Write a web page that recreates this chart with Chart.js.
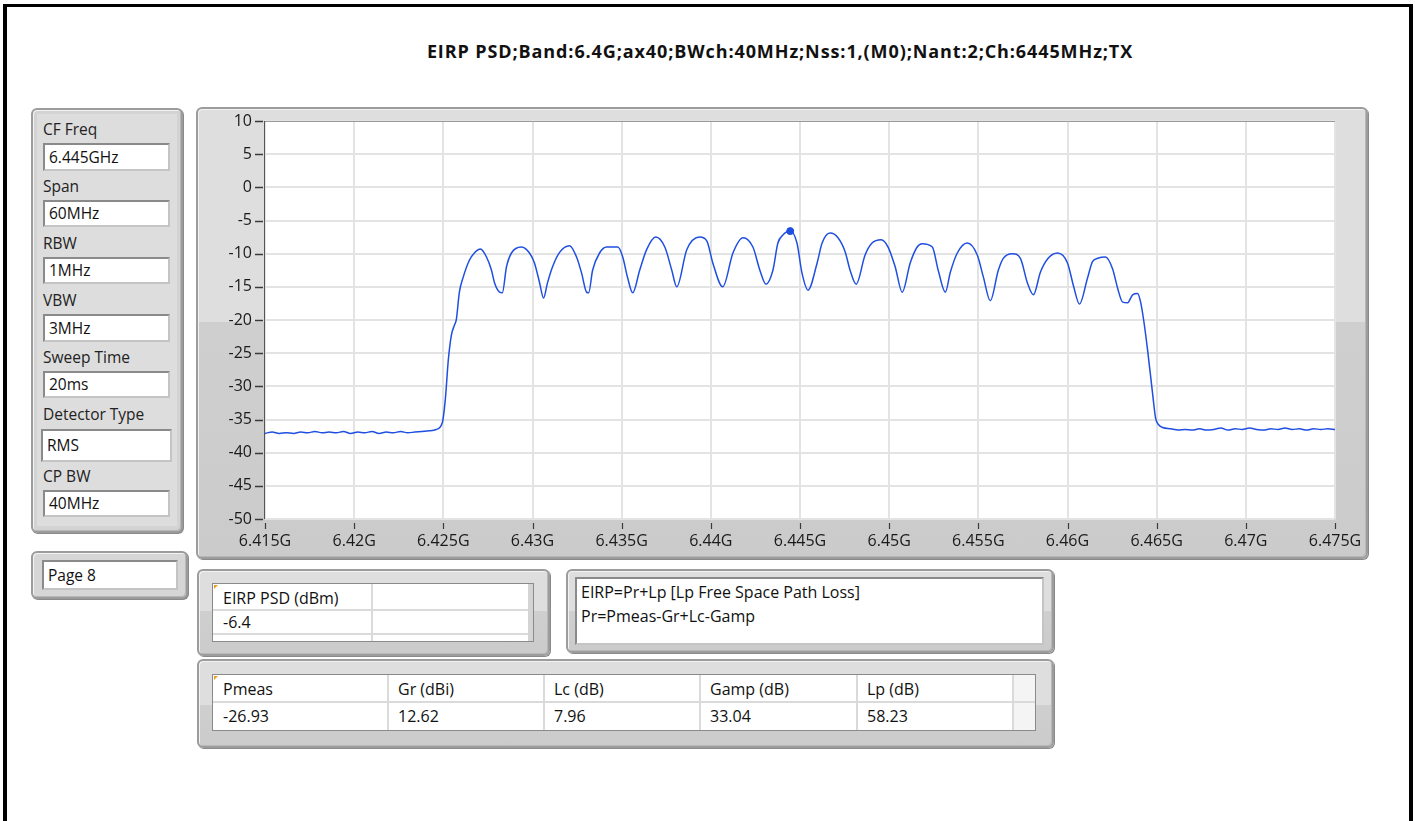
<!DOCTYPE html>
<html><head><meta charset="utf-8">
<script src="https://cdn.jsdelivr.net/npm/chart.js@4/dist/chart.umd.min.js"></script>
<style>
html,body{margin:0;padding:0;background:#fff;}
body{width:1415px;height:821px;overflow:hidden;position:relative;font-family:"Open Sans","Noto Sans",sans-serif;color:#1a1a1a;}
.abs{position:absolute;}
.outer{position:absolute;left:3px;top:4px;width:1402px;height:830px;border-left:4px solid #000;border-right:4px solid #000;border-top:3px solid #000;}
.title{position:absolute;left:0;width:1560px;top:38px;text-align:center;font-weight:700;font-size:18px;letter-spacing:0.9px;line-height:26px;color:#111;}
.frame{position:absolute;box-sizing:border-box;border:2px solid #9c9c9c;border-radius:6px;box-shadow:inset 1px 1px 0 #f2f2f2,inset -1px -1px 0 #b8b8b8,1px 1px 0 #8a8a8a;}
.lbl{position:absolute;left:43px;font-size:15.5px;line-height:20px;color:#222;}
.tb{position:absolute;box-sizing:border-box;background:#fff;border:2px solid;border-color:#8a8a8a #c4c4c4 #c4c4c4 #8a8a8a;font-size:15.5px;padding-left:4px;color:#111;}
.cell{position:absolute;font-size:16px;line-height:26px;color:#111;padding-left:10px;box-sizing:border-box;}
.vl{position:absolute;width:2px;background:#dadada;}
.hl{position:absolute;height:2px;background:#dadada;}
</style></head>
<body>
<div class="outer"></div>
<div class="title" id="title"></div>

<!-- left settings panel -->
<div class="frame" style="left:31px;top:108px;width:152px;height:425px;background:#d3d3d3;"></div>
<div class="abs" style="left:37px;top:114px;width:140px;height:412px;background:#dddddd;"></div>
<div id="settings"></div>

<!-- page box -->
<div class="frame" style="left:31px;top:551px;width:157px;height:48px;background:#d6d6d6;"></div>
<div class="tb" style="left:42px;top:560px;width:136px;height:30px;line-height:26px;">Page 8</div>

<!-- chart panel -->
<div class="frame" style="left:196px;top:107px;width:1172px;height:452px;background:linear-gradient(#dedede 0,#dedede 213px,#cfcfcf 213px,#cbcbcb 100%);"></div>
<div class="abs" style="left:197px;top:109px;width:1170px;height:449px;"><canvas id="c" width="1170" height="449"></canvas></div>

<!-- EIRP table panel -->
<div class="frame" style="left:197px;top:569px;width:353px;height:87px;background:linear-gradient(#dedede 0,#dedede 40px,#cfcfcf 40px,#cbcbcb 100%);"></div>
<div class="abs" style="left:212px;top:583px;width:322px;height:59px;background:#fff;border:1px solid #8a8a8a;box-sizing:border-box;"></div>
<div class="abs" style="left:528px;top:584px;width:5px;height:57px;background:#d4d4d4;"></div>
<div class="abs" style="left:214px;top:585px;width:0;height:0;border-top:4px solid #e8a020;border-right:4px solid transparent;"></div>
<div class="hl" style="left:213px;top:609px;width:315px;"></div>
<div class="hl" style="left:213px;top:633px;width:315px;"></div>
<div class="vl" style="left:371px;top:584px;height:57px;"></div>
<div id="eirpT"></div>

<!-- formula panel -->
<div class="frame" style="left:566px;top:569px;width:488px;height:84px;background:linear-gradient(#dedede 0,#dedede 40px,#cfcfcf 40px,#cbcbcb 100%);"></div>
<div class="abs" style="left:575px;top:577px;width:469px;height:68px;background:#fff;border:2px solid;border-color:#8a8a8a #c4c4c4 #c4c4c4 #8a8a8a;box-sizing:border-box;"></div>
<div class="abs" style="left:581px;top:580px;font-size:16px;line-height:24px;color:#111;" id="formula"></div>

<!-- parameter table panel -->
<div class="frame" style="left:197px;top:659px;width:857px;height:89px;background:linear-gradient(#dedede 0,#dedede 44px,#cfcfcf 44px,#cbcbcb 100%);"></div>
<div class="abs" style="left:212px;top:674px;width:824px;height:57px;background:#fff;border:1px solid #8a8a8a;box-sizing:border-box;"></div>
<div class="abs" style="left:1014px;top:675px;width:21px;height:55px;background:#f4f4f4;"></div>
<div class="abs" style="left:214px;top:676px;width:0;height:0;border-top:4px solid #e8a020;border-right:4px solid transparent;"></div>
<div class="hl" style="left:213px;top:701px;width:822px;"></div>
<div id="paramT"></div>

<script>
// ---- data ----
const freqMHz = [
 6415.0,6415.4,6415.8,6416.2,6416.6,6417.0,6417.4,6417.8,6418.2,6418.6,
 6419.0,6419.4,6419.8,6420.2,6420.6,6421.0,6421.4,6421.8,6422.2,6422.6,
 6423.0,6423.4,6423.8,6424.2,6424.6,6424.94,
 6425.11,6425.28,6425.45,6425.62,6425.73,6425.90,6426.12,6426.46,6426.74,6427.08,
 6427.42,6427.70,6427.87,6428.15,6428.31,6428.54,6428.82,6429.38,6429.83,6430.11,
 6430.39,6430.62,6430.84,6431.12,6431.52,6432.08,6432.47,6432.75,6433.03,6433.15,
 6433.37,6433.76,6434.16,6434.78,6435.06,6435.34,6435.62,6436.01,6436.40,6436.91,
 6437.42,6437.81,6438.09,6438.65,6439.38,6439.78,6440.11,6440.67,6441.24,6441.80,
 6442.36,6442.75,6443.09,6443.48,6443.76,6444.04,6444.45,6444.83,6445.11,6445.45,
 6445.96,6446.24,6446.69,6447.13,6447.53,6447.81,6448.15,6448.65,6449.04,6449.55,
 6449.94,6450.34,6450.73,6451.18,6451.57,6451.85,6452.42,6452.75,6453.15,6453.43,
 6453.82,6454.38,6454.94,6455.28,6455.67,6456.12,6456.40,6456.91,6457.36,6457.75,
 6458.09,6458.48,6458.88,6459.44,6460.00,6460.34,6460.67,6461.12,6461.40,6461.69,
 6462.13,6462.53,6462.81,6463.09,6463.37,6463.65,6463.93,6464.10,6464.27,6464.49,
 6464.78,6464.94,6465.11,6465.34,6465.79,
 6466.2,6466.6,6467.0,6467.4,6467.8,6468.2,6468.6,6469.0,6469.4,6469.8,
 6470.2,6470.6,6471.0,6471.4,6471.8,6472.2,6472.6,6473.0,6473.4,6473.8,
 6474.2,6474.6,6475.0
];
const psdDbm = [
 -37.1,-36.9,-37.1,-37.0,-37.1,-36.9,-37.0,-36.8,-37.0,-36.9,
 -37.0,-36.8,-37.1,-36.9,-37.0,-36.8,-37.1,-36.9,-37.0,-36.8,
 -37.0,-36.9,-36.8,-36.7,-36.5,-35.5,
 -32.0,-26.0,-22.3,-20.8,-19.9,-15.8,-13.5,-11.0,-9.9,-9.3,
 -10.5,-12.5,-14.4,-15.8,-15.9,-12.0,-9.9,-9.0,-9.9,-11.4,
 -14.3,-16.7,-14.4,-12.0,-9.8,-8.8,-10.5,-12.9,-15.8,-15.9,
 -12.5,-9.9,-9.0,-9.0,-10.5,-13.7,-15.9,-12.5,-9.4,-7.5,
 -9.0,-12.5,-15.0,-9.4,-7.5,-8.1,-11.4,-15.0,-9.9,-7.6,
 -9.0,-12.5,-14.6,-12.5,-8.4,-7.2,-6.6,-8.4,-12.9,-15.5,
 -11.4,-8.4,-6.9,-7.6,-9.7,-12.5,-14.6,-10.2,-8.4,-7.9,
 -9.0,-12.0,-15.8,-11.4,-9.0,-8.5,-9.0,-12.5,-15.8,-12.8,
 -9.9,-8.4,-10.2,-13.5,-17.1,-12.5,-10.7,-10.0,-10.7,-14.4,
 -16.2,-12.8,-10.8,-9.9,-11.4,-14.9,-17.6,-13.7,-11.2,-10.7,
 -10.5,-12.3,-15.2,-17.3,-17.4,-16.2,-16.0,-17.3,-20.0,-24.5,
 -31.3,-34.8,-35.8,-36.2,-36.4,
 -36.6,-36.5,-36.6,-36.4,-36.6,-36.5,-36.3,-36.6,-36.4,-36.5,
 -36.3,-36.5,-36.6,-36.4,-36.5,-36.3,-36.5,-36.4,-36.6,-36.4,
 -36.5,-36.4,-36.5
];
const markerFreq = [6444.45];
const markerLevel = [-6.6];
const xTickLabels = ['6.415G','6.42G','6.425G','6.43G','6.435G','6.44G','6.445G','6.45G','6.455G','6.46G','6.465G','6.47G','6.475G'];
const yTickValues = [10,5,0,-5,-10,-15,-20,-25,-30,-35,-40,-45,-50];

const titleText = 'EIRP PSD;Band:6.4G;ax40;BWch:40MHz;Nss:1,(M0);Nant:2;Ch:6445MHz;TX';
const settingLabels = ['CF Freq','Span','RBW','VBW','Sweep Time','Detector Type','CP BW'];
const settingValues = ['6.445GHz','60MHz','1MHz','3MHz','20ms','RMS','40MHz'];
const eirpHeader = ['EIRP PSD (dBm)',''];
const eirpValues = ['-6.4',''];
const formulaLines = ['EIRP=Pr+Lp [Lp Free Space Path Loss]','Pr=Pmeas-Gr+Lc-Gamp'];
const paramHeader = ['Pmeas','Gr (dBi)','Lc (dB)','Gamp (dB)','Lp (dB)',''];
const paramValues = ['-26.93','12.62','7.96','33.04','58.23',''];

// ---- static text ----
document.getElementById('title').textContent = titleText;
const labelTops = [119,176,233,290,347,404,466];
const boxGeom = [[43,143,127,28],[43,200,127,27],[43,257,127,27],[43,314,127,28],[43,371,127,27],[41,429,131,33],[43,490,127,27]];
const st = document.getElementById('settings');
settingLabels.forEach((l,i)=>{
  const d=document.createElement('div');d.className='lbl';d.style.top=labelTops[i]+'px';d.textContent=l;st.appendChild(d);
  const b=document.createElement('div');b.className='tb';const g=boxGeom[i];
  b.style.left=g[0]+'px';b.style.top=g[1]+'px';b.style.width=g[2]+'px';b.style.height=g[3]+'px';b.style.lineHeight=(g[3]-4)+'px';
  b.textContent=settingValues[i];st.appendChild(b);
});
const et=document.getElementById('eirpT');
const eCols=[213,372];
eirpHeader.forEach((h,i)=>{const d=document.createElement('div');d.className='cell';d.style.left=eCols[i]+'px';d.style.top='585px';d.textContent=h;et.appendChild(d);});
eirpValues.forEach((h,i)=>{const d=document.createElement('div');d.className='cell';d.style.left=eCols[i]+'px';d.style.top='609px';d.textContent=h;et.appendChild(d);});
document.getElementById('formula').innerHTML=formulaLines.join('<br>');
const pt=document.getElementById('paramT');
const pCols=[213,388,544,700,857,1013];
pCols.slice(1).forEach(x=>{const v=document.createElement('div');v.className='vl';v.style.left=(x-1)+'px';v.style.top='675px';v.style.height='55px';pt.appendChild(v);});
paramHeader.forEach((h,i)=>{const d=document.createElement('div');d.className='cell';d.style.left=pCols[i]+'px';d.style.top='676px';d.textContent=h;pt.appendChild(d);});
paramValues.forEach((h,i)=>{const d=document.createElement('div');d.className='cell';d.style.left=pCols[i]+'px';d.style.top='703px';d.textContent=h;pt.appendChild(d);});

// ---- chart ----
const plotDecor = {
  id:'plotDecor',
  beforeDraw(chart){
    const a=chart.chartArea, ctx=chart.ctx;
    ctx.save();ctx.fillStyle='#ffffff';ctx.fillRect(a.left,a.top,a.right-a.left,a.bottom-a.top);ctx.restore();
  },
  afterDraw(chart){
    const a=chart.chartArea, ctx=chart.ctx;
    ctx.save();
    ctx.strokeStyle='#3a3a3a';ctx.lineWidth=1.5;
    const ys=chart.scales.y, xs=chart.scales.x;
    ys.ticks.forEach((t,i)=>{const p=Math.round(ys.getPixelForTick(i))+0.5;ctx.beginPath();ctx.moveTo(a.left-10,p);ctx.lineTo(a.left-2,p);ctx.stroke();});
    ctx.lineWidth=1.2;
    xs.ticks.forEach((t,i)=>{const p=Math.round(xs.getPixelForTick(i))+0.5;ctx.beginPath();ctx.moveTo(p,a.bottom+4);ctx.lineTo(p,a.bottom+10);ctx.stroke();});
    ctx.strokeStyle='#9a9a9a';ctx.lineWidth=1;
    ctx.beginPath();ctx.moveTo(a.left,a.top+0.5);ctx.lineTo(a.right,a.top+0.5);ctx.stroke();
    ctx.strokeStyle='#555';
    ctx.beginPath();ctx.moveTo(a.left-0.5,a.top);ctx.lineTo(a.left-0.5,a.bottom);ctx.stroke();
    ctx.restore();
  }
};
const tickFont={family:'"Open Sans","Noto Sans",sans-serif',size:16};
new Chart(document.getElementById('c'),{
  type:'line',
  data:{datasets:[
    {data:freqMHz.map((f,i)=>({x:f,y:psdDbm[i]})),borderColor:'#1f4fe0',borderWidth:1.5,pointRadius:0,cubicInterpolationMode:'monotone',fill:false},
    {data:markerFreq.map((f,i)=>({x:f,y:markerLevel[i]})),borderColor:'#1f4fe0',backgroundColor:'#1f4fe0',pointRadius:3.5,showLine:false}
  ]},
  options:{
    responsive:false,animation:false,
    layout:{padding:{top:12,right:32,bottom:0,left:0}},
    plugins:{legend:{display:false},tooltip:{enabled:false}},
    scales:{
      x:{type:'linear',min:6415,max:6475,
        afterFit(s){s.height=39;s.paddingLeft=0;s.paddingRight=0;},
        border:{display:false},
        grid:{color:'#e3e3e3',lineWidth:2,drawTicks:false},
        ticks:{stepSize:5,autoSkip:false,maxRotation:0,padding:13,color:'#1a1a1a',font:tickFont,
          callback:(v,i)=>xTickLabels[i]}},
      y:{min:-50,max:10,
        afterFit(s){s.width=68;s.paddingTop=0;s.paddingBottom=0;},
        border:{display:false},
        grid:{color:'#e3e3e3',lineWidth:2,drawTicks:false},
        ticks:{stepSize:5,padding:13,color:'#1a1a1a',font:tickFont,
          callback:(v)=>yTickValues.includes(v)?String(v):''}}
    }
  },
  plugins:[plotDecor]
});
</script>
</body></html>
